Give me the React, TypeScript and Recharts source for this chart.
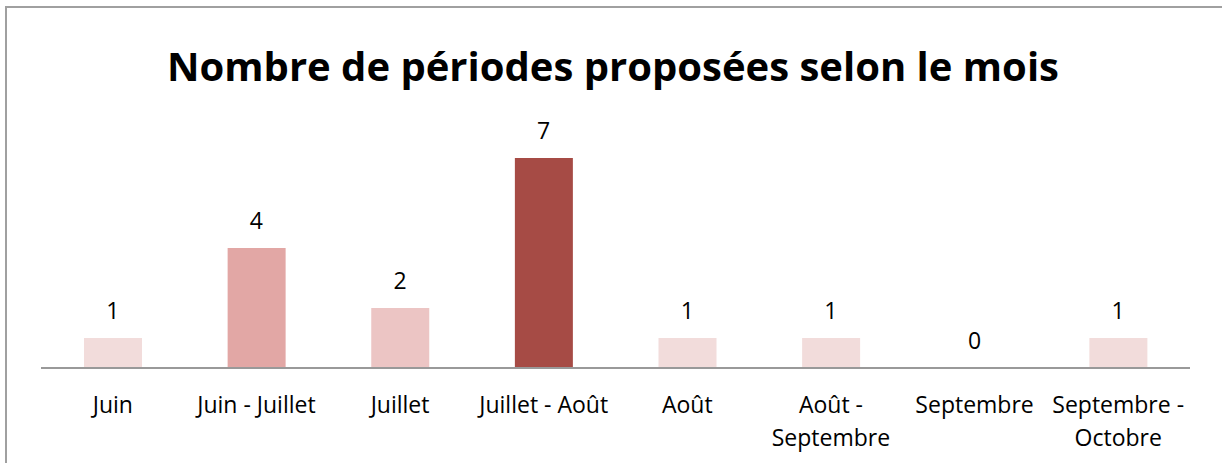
import React from "react";
import { ComposedChart, Bar, Line, XAxis, YAxis, Cell, LabelList } from "recharts";

const categories = ["Juin", "Juin - Juillet", "Juillet", "Juillet - Août", "Août", "Août - Septembre", "Septembre", "Septembre - Octobre"];
const values = [1, 4, 2, 7, 1, 1, 0, 1];
const colors = ["#F2DCDB", "#E2A7A5", "#ECC5C4", "#A64B45", "#F2DCDB", "#F2DCDB", "#F2DCDB", "#F2DCDB"];
const title = "Nombre de périodes proposées selon le mois";

const data = categories.map((c, i) => ({ name: c, value: values[i] }));

const FONT = "'Open Sans', sans-serif";

const Tick = (props: any) => {
  const { x, y, payload } = props;
  const label: string = payload.value;
  let lines = [label];
  if (label.length > 14) {
    const idx = label.indexOf(" - ");
    lines = [label.slice(0, idx + 2), label.slice(idx + 3)];
  }
  return (
    <g transform={`translate(${x},${y})`}>
      {lines.map((l, i) => (
        <text key={i} x={0} y={37 + i * 33} textAnchor="middle" fontFamily={FONT} fontSize={23} fill="#000">
          {l}
        </text>
      ))}
    </g>
  );
};

const ValueLabel = (props: any) => {
  const { x, y, value } = props;
  return (
    <text x={x} y={y - 19} textAnchor="middle" fontFamily={FONT} fontSize={23} fill="#000">
      {value}
    </text>
  );
};

export default function App() {
  return (
    <div style={{ position: "absolute", left: 0, top: 0, width: 1222, height: 463, background: "#fff", overflow: "hidden" }}>
      <div style={{ position: "absolute", left: 5, top: 6, width: 1230, height: 470, borderLeft: "2px solid #A0A0A0", borderTop: "2px solid #A0A0A0" }} />
      <div style={{ position: "absolute", left: 0, top: 0 }}>
        <ComposedChart width={1222} height={463} data={data} margin={{ top: 128, right: 32, bottom: 65, left: 41 }} barSize={58}>
          <text x={613} y={81} textAnchor="middle" fontFamily={FONT} fontWeight="bold" fontSize={40} fill="#000">
            {title}
          </text>
          <XAxis dataKey="name" height={30} axisLine={{ stroke: "#999", strokeWidth: 2 }} tickLine={false} tick={<Tick />} interval={0} />
          <YAxis hide domain={[0, 8]} />
          <Bar dataKey="value" isAnimationActive={false}>
            {data.map((d, i) => (
              <Cell key={i} fill={colors[i]} />
            ))}
          </Bar>
          <Line dataKey="value" stroke="none" dot={false} activeDot={false} isAnimationActive={false}>
            <LabelList dataKey="value" content={<ValueLabel />} />
          </Line>
        </ComposedChart>
      </div>
    </div>
  );
}
